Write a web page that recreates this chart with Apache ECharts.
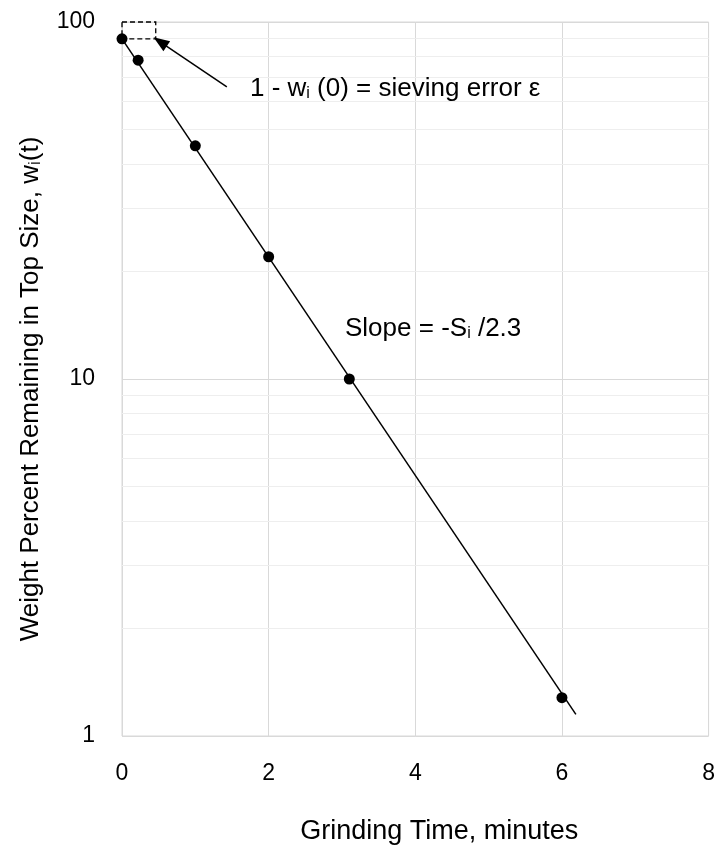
<!DOCTYPE html>
<html>
<head>
<meta charset="utf-8">
<script src="https://cdn.jsdelivr.net/npm/echarts@6/dist/echarts.min.js"></script>
<style>
html,body{margin:0;padding:0;background:#fff;}
#chart{width:718px;height:850px;}
</style>
</head>
<body>
<div id="chart"></div>
<script>
// 数据
var grindTime = [0, 0.22, 1, 2, 3.1, 6];
var weightPct = [89.7, 78.2, 45, 22, 10, 1.28];
var fitLineX = [0, 6.19];
var fitLineY = [89.7, 1.15];
var minorGrid = [2, 3, 4, 5, 6, 7, 8, 9, 20, 30, 40, 50, 60, 70, 80, 90];
var errBoxX = [0, 0.46];
var errBoxY = [89.7, 100];
var arrowFrom = [1.43, 65.8];
var arrowTo = [0.52, 88];

var FONT = "'Liberation Sans Narrow', 'Arial Narrow', 'Liberation Sans', Arial, sans-serif";

var myChart = echarts.init(document.getElementById('chart'));
var option = {
	animation: false,
	backgroundColor: '#fff',
	grid: {
		left: 122,
		right: 7,
		top: 22,
		bottom: 111,
		show: true,
		borderColor: '#d9d9d9',
		borderWidth: 1
	},
	xAxis: {
		type: 'value',
		min: 0,
		max: 8,
		interval: 2,
		axisLine: {show: false},
		axisTick: {show: false},
		axisLabel: {color: '#000', fontSize: 23, fontFamily: FONT, margin: 26},
		splitLine: {lineStyle: {color: '#d9d9d9', width: 1}},
		name: 'Grinding Time, minutes',
		nameLocation: 'middle',
		nameGap: 82,
		nameTextStyle: {color: '#000', fontSize: 27, fontFamily: FONT, padding: [0, 0, 0, 48]}
	},
	yAxis: {
		type: 'log',
		logBase: 10,
		min: 1,
		max: 100,
		axisLine: {show: false},
		axisTick: {show: false},
		axisLabel: {color: '#000', fontSize: 23, fontFamily: FONT, margin: 27},
		splitLine: {lineStyle: {color: '#d9d9d9', width: 1}},
		name: '{a|Weight Percent Remaining in Top Size, w}{s|i}{a|(t)}',
		nameLocation: 'middle',
		nameGap: 78,
		nameTextStyle: {
			color: '#000',
			fontFamily: FONT,
			padding: [0, 20, 0, 0],
			rich: {
				a: {fontSize: 26, fontFamily: FONT, color: '#000'},
				s: {fontSize: 17, fontFamily: FONT, color: '#000', verticalAlign: 'bottom'}
			}
		}
	},
	series: [
		{
			// 次网格线
			type: 'line',
			data: [],
			silent: true,
			z: 0,
			markLine: {
				silent: true,
				z: 0,
				symbol: 'none',
				label: {show: false},
				lineStyle: {color: '#eeeeee', width: 1, type: 'solid'},
				data: minorGrid.map(function (v) { return {yAxis: v}; })
			}
		},
		{
			// 拟合线
			type: 'line',
			data: fitLineX.map(function (x, i) { return [x, fitLineY[i]]; }),
			showSymbol: false,
			lineStyle: {color: '#000', width: 1.5},
			z: 3,
			markArea: {
				silent: true,
				itemStyle: {color: 'rgba(0,0,0,0)', borderColor: '#000', borderWidth: 1.3, borderType: [5, 3]},
				data: [[{coord: [errBoxX[0], errBoxY[1]]}, {coord: [errBoxX[1], errBoxY[0]]}]]
			},
			markLine: {
				silent: true,
				label: {show: false},
				lineStyle: {color: '#000', width: 1.5, type: 'solid'},
				symbolSize: [12, 16],
				data: [[
					{coord: arrowFrom, symbol: 'none'},
					{coord: arrowTo, symbol: 'triangle'}
				]]
			}
		},
		{
			type: 'scatter',
			data: grindTime.map(function (x, i) { return [x, weightPct[i]]; }),
			symbolSize: 11,
			itemStyle: {color: '#000', opacity: 1},
			z: 4
		}
	],
	graphic: [
		{
			type: 'text',
			left: 250,
			top: 76,
			z: 10,
			style: {
				rich: {
					a: {fontSize: 26, fontFamily: FONT, fill: '#000'},
					s: {fontSize: 16, fontFamily: FONT, fill: '#000', verticalAlign: 'bottom'}
				},
				text: '{a|1 - w}{s|i}{a| (0) = sieving error ε}'
			}
		},
		{
			type: 'text',
			left: 345,
			top: 316,
			z: 10,
			style: {
				rich: {
					a: {fontSize: 26, fontFamily: FONT, fill: '#000'},
					s: {fontSize: 16, fontFamily: FONT, fill: '#000', verticalAlign: 'bottom'}
				},
				text: '{a|Slope = -S}{s|i}{a| /2.3}'
			}
		}
	]
};
myChart.setOption(option);
window.onresize = myChart.resize;
</script>
</body>
</html>
